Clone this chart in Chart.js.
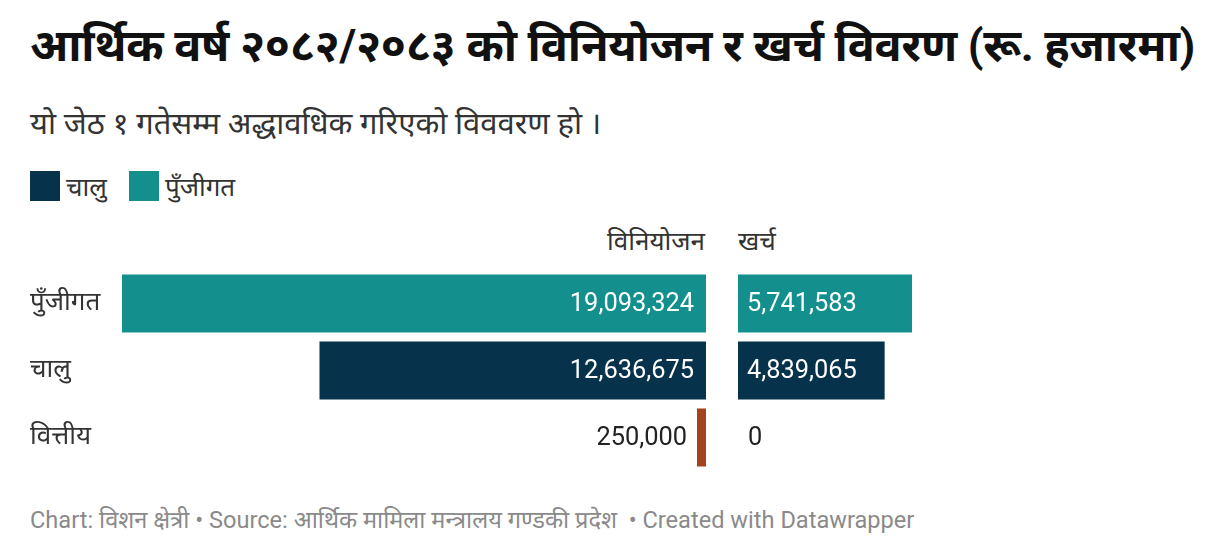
<!DOCTYPE html>
<html>
<head>
<meta charset="utf-8">
<script src="https://cdn.jsdelivr.net/npm/chart.js@4/dist/chart.umd.min.js"></script>
<style>
  html, body { margin: 0; padding: 0; background: #fff; }
  body { width: 1227px; height: 557px; position: relative; overflow: hidden;
         font-family: "Roboto", "Noto Sans", sans-serif; color: #222; }
  .abs { position: absolute; white-space: nowrap; }
  #title { left: 30px; top: 13px; font-size: 45px; font-weight: 700; color: #111; letter-spacing: -0.3px; }
  #subtitle { left: 30px; top: 101px; font-size: 31px; color: #333; }
  #legend { left: 30px; top: 168px; font-size: 26px; color: #333; display: flex; align-items: center; }
  .sw { width: 30px; height: 30px; display: inline-block; margin-right: 6px; }
  .li { display: flex; align-items: center; margin-right: 22px; }
  #hLeft { right: calc(1227px - 705px); top: 222px; font-size: 26px; color: #333; }
  #hRight { left: 738px; top: 222px; font-size: 26px; color: #333; }
  #footer { left: 30px; top: 503px; font-size: 23.6px; color: #8a8a8a; }
  #leftWrap { left: 30px; top: 270px; width: 676px; height: 201px; }
  #rightWrap { left: 738px; top: 270px; width: 174px; height: 201px; }
</style>
</head>
<body>
<div id="title" class="abs">आर्थिक वर्ष २०८२/२०८३ को विनियोजन र खर्च विवरण (रू. हजारमा)</div>
<div id="subtitle" class="abs">यो जेठ १ गतेसम्म अद्धावधिक गरिएको विववरण हो ।</div>
<div id="legend" class="abs"></div>
<div id="hLeft" class="abs">विनियोजन</div>
<div id="hRight" class="abs">खर्च</div>
<div id="leftWrap" class="abs"><canvas id="left"></canvas></div>
<div id="rightWrap" class="abs"><canvas id="right"></canvas></div>
<div id="footer" class="abs">Chart: विशन क्षेत्री • Source: आर्थिक मामिला मन्त्रालय गण्डकी प्रदेश &nbsp;• Created with Datawrapper</div>

<script>
const categories = ["पुँजीगत", "चालु", "वित्तीय"];
const allocation = [19093324, 12636675, 250000];
const expenditure = [5741583, 4839065, 0];
const barColors = ["#13908d", "#06324b", "#a4441e"];
const legendLabels = ["चालु", "पुँजीगत"];
const legendColors = ["#06324b", "#13908d"];

const legend = document.getElementById('legend');
legendLabels.forEach((l, i) => {
  const d = document.createElement('span');
  d.className = 'li';
  d.innerHTML = '<span class="sw" style="background:' + legendColors[i] + '"></span><span>' + l + '</span>';
  legend.appendChild(d);
});

const fmt = v => v.toLocaleString('en-US');
const numFont = '25.4px Roboto, "Noto Sans", sans-serif';

const labelPlugin = {
  id: 'valueLabels',
  afterDatasetsDraw(chart, args, opts) {
    const ctx = chart.ctx;
    const meta = chart.getDatasetMeta(0);
    const data = chart.data.datasets[0].data;
    ctx.save();
    ctx.font = numFont;
    ctx.textBaseline = 'middle';
    meta.data.forEach((el, i) => {
      const txt = fmt(data[i]);
      const tw = ctx.measureText(txt).width;
      const barW = Math.abs(el.x - el.base);
      const pad = opts.pad;
      const y = el.y + 1;
      if (opts.side === 'left') {
        if (barW > tw + 2 * pad) {
          ctx.fillStyle = '#fff'; ctx.textAlign = 'right';
          ctx.fillText(txt, el.base - pad, y);
        } else {
          ctx.fillStyle = '#222'; ctx.textAlign = 'right';
          ctx.fillText(txt, el.x - 10, y);
        }
      } else {
        if (barW > tw + 2 * pad) {
          ctx.fillStyle = '#fff'; ctx.textAlign = 'left';
          ctx.fillText(txt, el.base + pad, y);
        } else {
          ctx.fillStyle = '#222'; ctx.textAlign = 'left';
          ctx.fillText(txt, el.x + 10, y);
        }
      }
    });
    ctx.restore();
  }
};

const common = {
  indexAxis: 'y',
  responsive: true,
  maintainAspectRatio: false,
  animation: false,
  events: [],
  layout: { padding: 0 },
  plugins: { legend: { display: false }, tooltip: { enabled: false } }
};

new Chart(document.getElementById('left'), {
  type: 'bar',
  data: { labels: categories, datasets: [{ data: allocation, backgroundColor: barColors,
          categoryPercentage: 1, barPercentage: 0.866, minBarLength: 9 }] },
  options: Object.assign({}, common, {
    scales: {
      x: { display: false, reverse: true, min: 0, max: Math.max(...allocation) },
      y: {
        position: 'left',
        grid: { display: false, drawTicks: false },
        border: { display: false },
        afterFit: s => { s.width = 92; s.paddingTop = 0; s.paddingBottom = 0; },
        ticks: { crossAlign: 'far', padding: 0, color: '#333',
                 font: { size: 26, family: 'Roboto, "Noto Sans", sans-serif' } }
      }
    },
    plugins: Object.assign({}, common.plugins, { valueLabels: { side: 'left', pad: 12 } })
  }),
  plugins: [labelPlugin]
});

new Chart(document.getElementById('right'), {
  type: 'bar',
  data: { labels: categories, datasets: [{ data: expenditure, backgroundColor: barColors,
          categoryPercentage: 1, barPercentage: 0.866 }] },
  options: Object.assign({}, common, {
    scales: {
      x: { display: false, min: 0, max: Math.max(...expenditure) },
      y: { display: false }
    },
    plugins: Object.assign({}, common.plugins, { valueLabels: { side: 'right', pad: 9 } })
  }),
  plugins: [labelPlugin]
});
</script>
</body>
</html>
